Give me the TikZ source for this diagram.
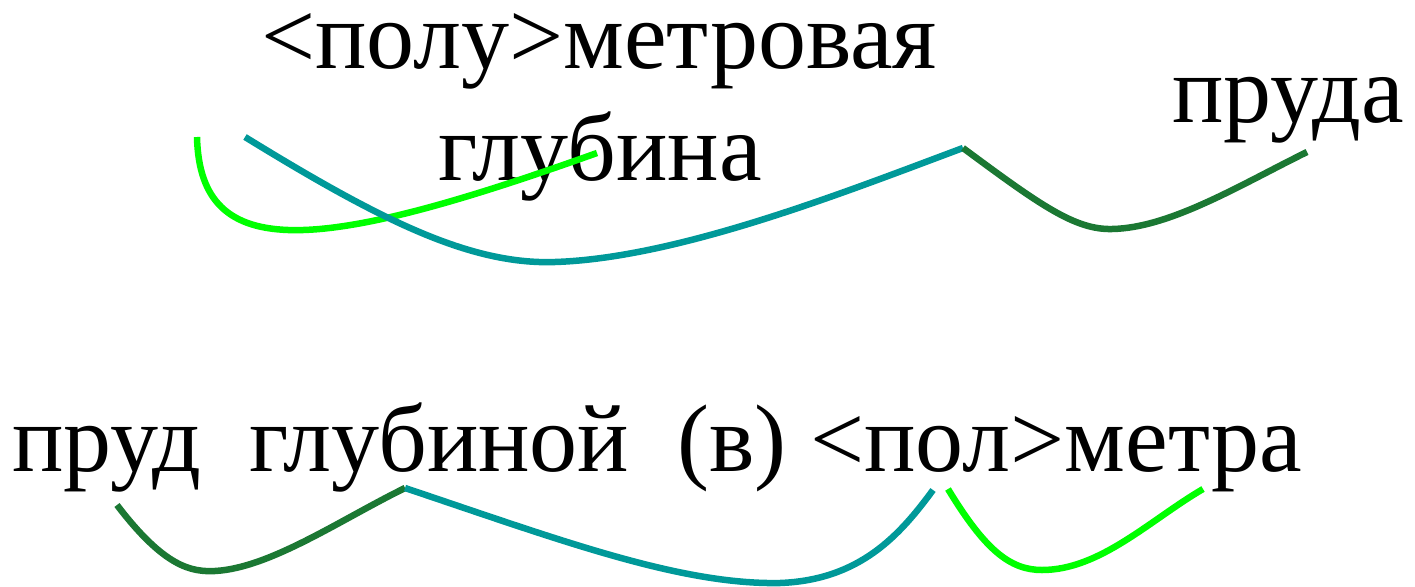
\documentclass[tikz,border=0pt]{standalone}
\usepackage{fontspec}
\setmainfont{Liberation Serif}
\definecolor{cteal}{HTML}{009999}
\definecolor{clime}{HTML}{00FF00}
\definecolor{cdark}{HTML}{1B7833}
\begin{document}
\begin{tikzpicture}[x=1pt,y=-1pt,
  lbl/.style={anchor=base west,inner sep=0pt,text height=0.68em,text depth=0.22em,font=\fontsize{96}{106}\selectfont},
  arc/.style={line width=6.5pt}]
\useasboundingbox (0,0) rectangle (1415,586);
% texts
\node[lbl] (t1) at (261,68) {<полу>метровая};
\node[lbl] (t2) at (438,180) {глубина};
\node[lbl] (t3) at (1172,122) {пруда};
\node[lbl] (t4) at (12,471) {пруд\ \ глубиной\ \ (в) <пол>метра};
% anchor points
\coordinate (a1) at (197,137);
\coordinate (a2) at (597,153);
\coordinate (b1) at (245,137);
\coordinate (b2) at (963,148);
\coordinate (c2) at (1307,152);
\coordinate (d1) at (117,505);
\coordinate (d2) at (405,488);
\coordinate (e2) at (933,490);
\coordinate (f1) at (948,489);
\coordinate (f2) at (1203,489);
% top connectors
\draw[arc,clime] (a1) .. controls (200,265) and (320,252) .. (a2);
\draw[arc,cteal] (b1) .. controls (380,220) and (470,265) .. (555,262) .. controls (680,258) and (850,190) .. (b2);
\draw[arc,cdark] (b2) .. controls (1040,205) and (1075,230) .. (1112,229) .. controls (1170,228) and (1240,185) .. (c2);
% bottom connectors
\draw[arc,cdark] (d1) .. controls (165,568) and (192,572) .. (215,571) .. controls (270,568) and (340,520) .. (d2);
\draw[arc,cteal] (d2) .. controls (560,540) and (680,585) .. (780,583) .. controls (860,580) and (900,535) .. (e2);
\draw[arc,clime] (f1) .. controls (985,550) and (1010,570) .. (1042,570) .. controls (1100,570) and (1150,520) .. (f2);
\end{tikzpicture}
\end{document}
